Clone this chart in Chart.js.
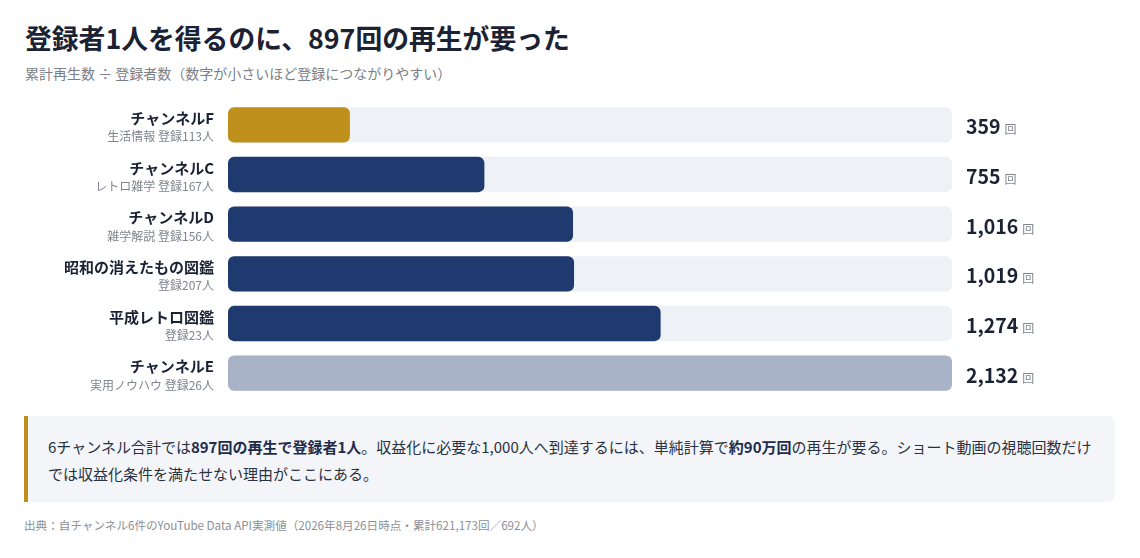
<!DOCTYPE html>
<html lang="ja">
<head>
<meta charset="utf-8">
<script src="https://cdn.jsdelivr.net/npm/chart.js@4"></script>
<style>
  html,body{margin:0;padding:0;background:#fff;}
  body{width:1140px;height:558px;position:relative;overflow:hidden;font-family:"Noto Sans CJK JP","Noto Sans",sans-serif;color:#1a2233;}
  h1{position:absolute;left:25px;top:18px;margin:0;font-size:26.8px;font-weight:700;line-height:40px;color:#1a2233;}
  .sub{position:absolute;left:25px;top:63px;font-size:14px;color:#7a7f88;line-height:20px;}
  #wrap{position:absolute;left:0;top:100px;width:1140px;height:298px;}
  .note{position:absolute;left:24px;top:416px;width:1091px;height:86px;background:#f3f5f9;border-left:4px solid #c0901c;border-radius:0 8px 8px 0;box-sizing:border-box;padding:17px 20px 0 20px;font-size:15px;line-height:27px;color:#2a3140;}
  .note b{color:#1f2d4d;}
  .foot{position:absolute;left:24px;top:516px;font-size:11.6px;color:#8a8f98;line-height:18px;}
</style>
</head>
<body>
<h1>登録者1人を得るのに、897回の再生が要った</h1>
<div class="sub">累計再生数 ÷ 登録者数（数字が小さいほど登録につながりやすい）</div>
<div id="wrap"><canvas id="c"></canvas></div>
<div class="note">6チャンネル合計では<b>897回の再生で登録者1人</b>。収益化に必要な1,000人へ到達するには、単純計算で<b>約90万回</b>の再生が要る。ショート動画の視聴回数だけでは収益化条件を満たせない理由がここにある。</div>
<div class="foot">出典：自チャンネル6件のYouTube Data API実測値（2026年8月26日時点・累計621,173回／692人）</div>
<script>
const channelNames = ["チャンネルF","チャンネルC","チャンネルD","昭和の消えたもの図鑑","平成レトロ図鑑","チャンネルE"];
const channelSubs = ["生活情報 登録113人","レトロ雑学 登録167人","雑学解説 登録156人","登録207人","登録23人","実用ノウハウ 登録26人"];
const viewsPerSub = [359, 755, 1016, 1019, 1274, 2132];
const barColors = ["#c0901c","#1f3a6e","#1f3a6e","#1f3a6e","#1f3a6e","#a8b3c7"];
const unitLabel = "回";

const trackPlugin = {
  id: 'track',
  beforeDatasetsDraw(chart) {
    const ctx = chart.ctx, xs = chart.scales.x, meta = chart.getDatasetMeta(0);
    ctx.save();
    ctx.fillStyle = "#eef1f6";
    meta.data.forEach(bar => {
      const h = bar.height, y = bar.y - h/2;
      const x0 = xs.getPixelForValue(xs.min), x1 = xs.getPixelForValue(xs.max);
      ctx.beginPath();
      ctx.roundRect(x0, y, x1 - x0, h, 6);
      ctx.fill();
    });
    ctx.restore();
  },
  afterDatasetsDraw(chart) {
    const ctx = chart.ctx, meta = chart.getDatasetMeta(0), xs = chart.scales.x;
    const right = xs.getPixelForValue(xs.max);
    ctx.save();
    meta.data.forEach((bar, i) => {
      ctx.textAlign = "right";
      ctx.textBaseline = "middle";
      ctx.fillStyle = "#1a2233";
      ctx.font = "700 15px 'Noto Sans CJK JP'";
      ctx.fillText(channelNames[i], 214, bar.y - 6.5);
      ctx.fillStyle = "#80858e";
      ctx.font = "400 12px 'Noto Sans CJK JP'";
      ctx.fillText(channelSubs[i], 214, bar.y + 12);
      ctx.textAlign = "left";
      ctx.fillStyle = "#1a2233";
      ctx.font = "700 19.5px 'Noto Sans CJK JP'";
      const txt = viewsPerSub[i].toLocaleString("en-US");
      const vx = right + 14;
      ctx.fillText(txt, vx, bar.y + 2);
      const w = ctx.measureText(txt).width;
      ctx.fillStyle = "#80858e";
      ctx.font = "400 12px 'Noto Sans CJK JP'";
      ctx.fillText(unitLabel, vx + w + 4, bar.y + 5);
    });
    ctx.restore();
  }
};

new Chart(document.getElementById('c'), {
  type: 'bar',
  data: {
    labels: channelNames,
    datasets: [{
      data: viewsPerSub,
      backgroundColor: barColors,
      borderRadius: 6,
      borderSkipped: false,
      barPercentage: 0.71,
      categoryPercentage: 1
    }]
  },
  options: {
    indexAxis: 'y',
    responsive: true,
    maintainAspectRatio: false,
    animation: false,
    layout: { padding: { left: 228, right: 188, top: 0, bottom: 0 } },
    scales: {
      x: { display: false, min: 0, max: Math.max(...viewsPerSub) },
      y: { display: false }
    },
    plugins: { legend: { display: false }, tooltip: { enabled: false } }
  },
  plugins: [trackPlugin]
});
</script>
</body>
</html>
